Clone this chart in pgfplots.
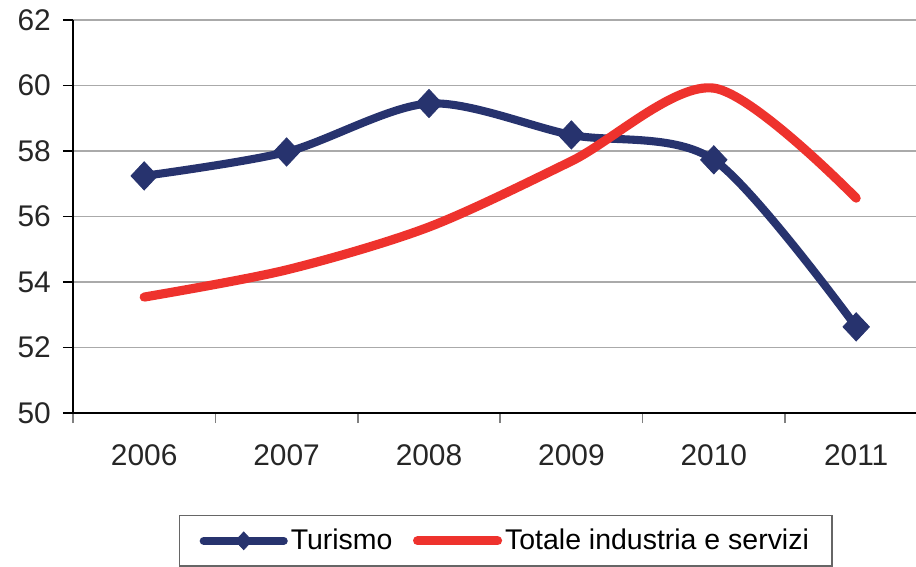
\documentclass[border=0pt]{standalone}
\usepackage{fontspec}
\setmainfont{Liberation Sans}
\usepackage{pgfplots}
\pgfplotsset{compat=1.18}

\definecolor{turblue}{RGB}{39,51,110}
\definecolor{totred}{RGB}{238,50,45}
\definecolor{gridgray}{RGB}{170,170,170}

\begin{document}
\begin{tikzpicture}
\begin{axis}[
    scale only axis,
    width=16.86cm,
    height=7.86cm,
    xmin=-0.5, xmax=5.42,
    ymin=50, ymax=62,
    ytick={50,52,...,62},
    xtick={0,1,2,3,4,5},
    xticklabels={2006,2007,2008,2009,2010,2011},
    minor xtick={-0.5,0.5,1.5,2.5,3.5,4.5},
    axis x line*=bottom,
    axis y line*=left,
    axis line style={-, black, line width=0.7pt},
    ymajorgrids,
    grid style={gridgray, line width=0.9pt},
    tick align=outside,
    major tick length=0.2cm,
    minor tick length=0.2cm,
    x tick style={draw=none},
    minor x tick style={draw=gray, line width=0.9pt},
    y tick style={black, line width=0.7pt},
    /pgf/number format/assume math mode=true,
    tick label style={font=\fontsize{17}{20}\selectfont, text=black!85},
    yticklabel style={xshift=-0.12cm},
    xticklabel style={yshift=-0.3cm},
    legend columns=2,
    legend style={
        at={(0.1257,-0.2595)}, anchor=north west,
        draw=gray!80!black, line width=0.8pt,
        font=\fontsize{16.2}{19}\selectfont,
        inner xsep=0.4cm, inner ysep=0.2cm,
        nodes={inner xsep=0.06cm},
        /tikz/every even column/.append style={column sep=0.35cm}
    },
    legend image code/.code={
        \draw[mark repeat=2, mark phase=2, mark size=5pt]
            plot coordinates {(0cm,0cm) (0.8cm,0cm) (1.6cm,0cm)};
    },
    clip=false
]
\addplot[turblue, line width=4.6pt, line cap=round, smooth, tension=0.5,
    mark=diamond*, mark size=8pt,
    mark options={xscale=1.25, line width=0.5pt, fill=turblue}]
    coordinates {
    (0,57.24) (1,57.97) (2,59.45) (3,58.49) (4,57.73) (5,52.63)
};
\addlegendentry{Turismo}
\addplot[totred, line width=5.2pt, line cap=round, smooth, tension=0.5]
    coordinates {
    (0,53.54) (1,54.37) (2,55.68) (3,57.69) (4,59.92) (5,56.56)
};
\addlegendentry{Totale industria e servizi}
\end{axis}
\pgfresetboundingbox
\path[use as bounding box] ([shift={(-1.46cm,-3.08cm)}]current axis.south west) rectangle ++(18.32cm,11.34cm);
\end{tikzpicture}
\end{document}
